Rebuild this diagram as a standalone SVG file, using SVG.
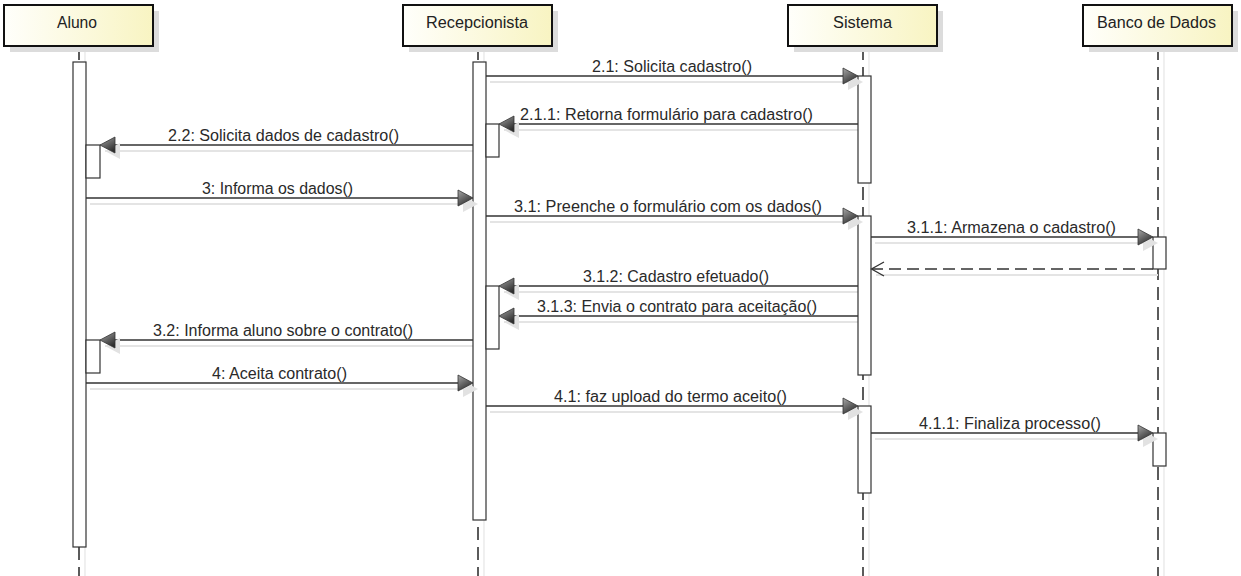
<svg xmlns="http://www.w3.org/2000/svg" xmlns:xlink="http://www.w3.org/1999/xlink" width="1241" height="576" viewBox="0 0 1241 576">
<defs>
<linearGradient id="hg" x1="0" y1="0" x2="1" y2="0">
<stop offset="0" stop-color="#fffffb"/>
<stop offset="1" stop-color="#f8f4c2"/>
</linearGradient>
<linearGradient id="ag" x1="0" y1="0" x2="0.6" y2="1">
<stop offset="0" stop-color="#a8a8a8"/>
<stop offset="1" stop-color="#2e2e2e"/>
</linearGradient>
<g id="arrR">
<path d="M-10,-2 L5,6 L-10,14 Z" fill="#e2e2e2"/>
<path d="M-15,-8 L0,0 L-15,8 Z" fill="url(#ag)" stroke="#333" stroke-width="0.8"/>
</g>
<g id="arrL">
<path d="M20,-2 L5,6 L20,14 Z" fill="#e2e2e2"/>
<path d="M15,-8 L0,0 L15,8 Z" fill="url(#ag)" stroke="#333" stroke-width="0.8"/>
</g>
</defs>
<style>
.hshadow{fill:#dcdcdc}
.hbox{fill:url(#hg);stroke:#111;stroke-width:2}
.htext{font-family:"Liberation Sans",Arial,sans-serif;font-size:16px;fill:#222;text-anchor:middle}
.life{stroke:#333;stroke-width:1.6;stroke-dasharray:13 7;fill:none}
.lshadow{stroke:#ececec;stroke-width:1.6;fill:none}
.act{fill:#fff;stroke:#333;stroke-width:1.2}
.msg{stroke:#333;stroke-width:1.3;fill:none}
.mshadow{stroke:#e4e4e4;stroke-width:2;fill:none}
.ret{stroke:#333;stroke-width:1.3;fill:none;stroke-dasharray:12 6}
.mtext{font-family:"Liberation Sans",Arial,sans-serif;font-size:16px;fill:#2a2a2a;text-anchor:middle}
</style>
<rect width="1241" height="576" fill="#fff"/>

<!-- lifelines -->
<g id="lifelines">
<line class="lshadow" x1="85" y1="46" x2="85" y2="576"/>
<line class="lshadow" x1="484" y1="46" x2="484" y2="576"/>
<line class="lshadow" x1="869" y1="46" x2="869" y2="576"/>
<line class="lshadow" x1="1164" y1="46" x2="1164" y2="576"/>
<line class="life" x1="79" y1="47" x2="79" y2="576"/>
<line class="life" x1="478" y1="47" x2="478" y2="576"/>
<line class="life" x1="863" y1="47" x2="863" y2="576"/>
<line class="life" x1="1158" y1="47" x2="1158" y2="576"/>
</g>

<!-- participants -->
<g id="aluno">
<rect class="hshadow" x="10" y="11" width="149" height="41"/>
<rect class="hbox" x="4" y="5" width="149" height="41"/>
<text class="htext" x="77" y="28" textLength="40" lengthAdjust="spacingAndGlyphs">Aluno</text>
</g>
<g id="recepcionista">
<rect class="hshadow" x="409" y="11" width="149" height="41"/>
<rect class="hbox" x="403" y="5" width="149" height="41"/>
<text class="htext" x="477" y="28" textLength="102" lengthAdjust="spacingAndGlyphs">Recepcionista</text>
</g>
<g id="sistema">
<rect class="hshadow" x="794" y="11" width="149" height="41"/>
<rect class="hbox" x="788" y="5" width="149" height="41"/>
<text class="htext" x="862.5" y="28" textLength="59" lengthAdjust="spacingAndGlyphs">Sistema</text>
</g>
<g id="banco">
<rect class="hshadow" x="1089" y="11" width="149" height="41"/>
<rect class="hbox" x="1083" y="5" width="149" height="41"/>
<text class="htext" x="1156.5" y="28" textLength="119" lengthAdjust="spacingAndGlyphs">Banco de Dados</text>
</g>

<!-- message shadows -->
<g id="shadows">
<line class="mshadow" x1="490" y1="82" x2="863" y2="82"/>
<line class="mshadow" x1="504" y1="130" x2="863" y2="130"/>
<line class="mshadow" x1="105" y1="151" x2="478" y2="151"/>
<line class="mshadow" x1="90" y1="204" x2="478" y2="204"/>
<line class="mshadow" x1="490" y1="222" x2="863" y2="222"/>
<line class="mshadow" x1="875" y1="243" x2="1158" y2="243"/>
<line class="mshadow" x1="876" y1="275" x2="1158" y2="275"/>
<line class="mshadow" x1="504" y1="292" x2="863" y2="292"/>
<line class="mshadow" x1="504" y1="322" x2="863" y2="322"/>
<line class="mshadow" x1="105" y1="346" x2="478" y2="346"/>
<line class="mshadow" x1="90" y1="389" x2="478" y2="389"/>
<line class="mshadow" x1="490" y1="412" x2="863" y2="412"/>
<line class="mshadow" x1="875" y1="439" x2="1158" y2="439"/>
</g>

<!-- activations -->
<g id="activations">
<rect class="act" x="73" y="62" width="13" height="485"/>
<rect class="act" x="86" y="145" width="14" height="33"/>
<rect class="act" x="86" y="340" width="14" height="33"/>
<rect class="act" x="473" y="62" width="13" height="458"/>
<rect class="act" x="486" y="124" width="13" height="33"/>
<rect class="act" x="486" y="286" width="13" height="63"/>
<rect class="act" x="858" y="76" width="13" height="107"/>
<rect class="act" x="858" y="216" width="13" height="159"/>
<rect class="act" x="858" y="406" width="13" height="87"/>
<rect class="act" x="1153" y="237" width="13" height="32"/>
<rect class="act" x="1153" y="433" width="13" height="33"/>
</g>

<!-- connectors -->
<g id="connectors">
<line class="msg" x1="486" y1="76" x2="856" y2="76"/>
<use xlink:href="#arrR" href="#arrR" transform="translate(858,76)"/>
<text class="mtext" x="672" y="72" textLength="160" lengthAdjust="spacingAndGlyphs">2.1: Solicita cadastro()</text>

<line class="msg" x1="858" y1="124" x2="501" y2="124"/>
<use xlink:href="#arrL" href="#arrL" transform="translate(499,124)"/>
<text class="mtext" x="666.5" y="120" textLength="293" lengthAdjust="spacingAndGlyphs">2.1.1: Retorna formulário para cadastro()</text>

<line class="msg" x1="473" y1="145" x2="102" y2="145"/>
<use xlink:href="#arrL" href="#arrL" transform="translate(100,145)"/>
<text class="mtext" x="283.5" y="141" textLength="231" lengthAdjust="spacingAndGlyphs">2.2: Solicita dados de cadastro()</text>

<line class="msg" x1="86" y1="198" x2="471" y2="198"/>
<use xlink:href="#arrR" href="#arrR" transform="translate(473,198)"/>
<text class="mtext" x="277.5" y="194" textLength="151" lengthAdjust="spacingAndGlyphs">3: Informa os dados()</text>

<line class="msg" x1="486" y1="216" x2="856" y2="216"/>
<use xlink:href="#arrR" href="#arrR" transform="translate(858,216)"/>
<text class="mtext" x="668" y="212" textLength="308" lengthAdjust="spacingAndGlyphs">3.1: Preenche o formulário com os dados()</text>

<line class="msg" x1="871" y1="237" x2="1151" y2="237"/>
<use xlink:href="#arrR" href="#arrR" transform="translate(1153,237)"/>
<text class="mtext" x="1011.5" y="233" textLength="209" lengthAdjust="spacingAndGlyphs">3.1.1: Armazena o cadastro()</text>

<line class="ret" x1="1153" y1="269" x2="872" y2="269"/>
<path class="msg" d="M884,262 L871.5,269 L884,276"/>

<line class="msg" x1="858" y1="286" x2="501" y2="286"/>
<use xlink:href="#arrL" href="#arrL" transform="translate(499,286)"/>
<text class="mtext" x="676" y="282" textLength="186" lengthAdjust="spacingAndGlyphs">3.1.2: Cadastro efetuado()</text>

<line class="msg" x1="858" y1="316" x2="501" y2="316"/>
<use xlink:href="#arrL" href="#arrL" transform="translate(499,316)"/>
<text class="mtext" x="677" y="312" textLength="280" lengthAdjust="spacingAndGlyphs">3.1.3: Envia o contrato para aceitação()</text>

<line class="msg" x1="473" y1="340" x2="102" y2="340"/>
<use xlink:href="#arrL" href="#arrL" transform="translate(100,340)"/>
<text class="mtext" x="283" y="336" textLength="260" lengthAdjust="spacingAndGlyphs">3.2: Informa aluno sobre o contrato()</text>

<line class="msg" x1="86" y1="383" x2="471" y2="383"/>
<use xlink:href="#arrR" href="#arrR" transform="translate(473,383)"/>
<text class="mtext" x="279.5" y="379" textLength="135" lengthAdjust="spacingAndGlyphs">4: Aceita contrato()</text>

<line class="msg" x1="486" y1="406" x2="856" y2="406"/>
<use xlink:href="#arrR" href="#arrR" transform="translate(858,406)"/>
<text class="mtext" x="670.5" y="402" textLength="233" lengthAdjust="spacingAndGlyphs">4.1: faz upload do termo aceito()</text>

<line class="msg" x1="871" y1="433" x2="1151" y2="433"/>
<use xlink:href="#arrR" href="#arrR" transform="translate(1153,433)"/>
<text class="mtext" x="1010" y="429" textLength="182" lengthAdjust="spacingAndGlyphs">4.1.1: Finaliza processo()</text>
</g>
</svg>
